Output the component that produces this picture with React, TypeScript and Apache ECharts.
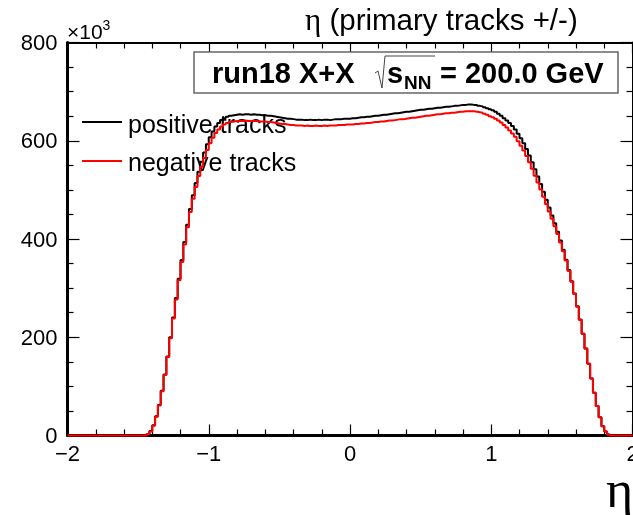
import React, { useEffect, useRef } from "react";
import * as echarts from "echarts";

// Histogram binning (eta axis)
const ETA_MIN = -2;
const ETA_MAX = 2;
const BIN_WIDTH = 0.02;

// Axis ticks
const X_TICK_INTERVAL = 1;
const Y_MIN = 0;
const Y_MAX = 800;
const Y_TICK_INTERVAL = 200;

// Counts per bin (x10^3), 200 bins from -2 to 2
const positiveTracks: number[] = [
  0, 0, 0, 0, 0, 0, 0, 0, 0, 0, 0, 0, 0, 0, 0, 0, 0, 0, 0, 0, 0, 0, 0, 0, 0, 0, 0,
  0, 3, 9, 21, 39, 62, 91, 124, 161, 200, 240, 280, 319, 357, 394, 429, 461, 489, 514, 537,
  557, 576, 593, 607, 619, 629, 636, 642, 646, 649, 651, 652, 653, 654, 653, 654, 654, 653,
  654, 653, 653, 652, 652, 651, 651, 650, 649, 648, 647, 646, 645, 645, 644, 643, 643, 643,
  642, 642, 643, 642, 642, 643, 642, 643, 643, 642, 643, 644, 644, 644, 645, 645, 645,
  646, 646, 647, 648, 648, 649, 649, 650, 651, 651, 652, 653, 653, 654, 655, 656, 656, 657,
  658, 659, 659, 660, 661, 662, 663, 663, 664, 665, 665, 666, 667, 667, 668, 669, 669, 670,
  671, 671, 672, 673, 673, 674, 674, 673, 673, 671, 670, 668, 666, 664,
  662, 659, 655, 651, 646, 641, 636, 630, 623, 614, 605, 595, 583, 570, 556, 542, 527, 512,
  496, 480, 464, 448, 432, 415, 397, 378, 358, 337, 314, 289, 263, 236, 207, 177, 146, 116,
  87, 60, 37, 19, 8, 2,
  0, 0, 0, 0, 0, 0, 0, 0,
];

const negativeTracks: number[] = [
  0, 0, 0, 0, 0, 0, 0, 0, 0, 0, 0, 0, 0, 0, 0, 0, 0, 0, 0, 0, 0, 0, 0, 0, 0, 0, 0,
  0, 3, 8, 20, 38, 61, 90, 123, 160, 198, 238, 277, 316, 353, 389, 424, 455, 482, 506, 528,
  547, 565, 581, 595, 606, 616, 623, 629, 633, 636, 638, 639, 640, 640, 640, 641, 640, 640,
  640, 640, 639, 639, 639, 638, 638, 637, 636, 635, 634, 634, 633, 632, 632, 631, 631, 631,
  630, 631, 630, 630, 631, 630, 630, 631, 630, 631, 631, 631, 632, 632, 632, 633, 633,
  633, 634, 634, 635, 635, 636, 636, 637, 638, 638, 639, 639, 640, 641, 641, 642, 643, 644,
  644, 645, 646, 647, 647, 648, 649, 650, 651, 651, 652, 653, 654, 654, 655, 656, 656, 657,
  657, 658, 659, 659, 660, 660, 660, 660, 659, 658, 657, 655, 653, 650,
  648, 645, 641, 637, 632, 627, 621, 615, 608, 599, 590, 580, 569, 556, 543, 529, 515, 501,
  486, 471, 456, 441, 426, 410, 393, 375, 356, 335, 313, 288, 262, 235, 207, 177, 146, 116,
  87, 60, 37, 19, 8, 2,
  0, 0, 0, 0, 0, 0, 0, 0,
];

const seriesNames = ["positive tracks", "negative tracks"];
const titleText = " (primary tracks +/-)";
const boxLabel = { left: "run18 X+X", s: "s", sub: "NN", right: "= 200.0 GeV" };

function toSteps(values: number[]): [number, number][] {
  const pts: [number, number][] = values.map((v, i) => [ETA_MIN + i * BIN_WIDTH, v]);
  pts.push([ETA_MAX, values[values.length - 1]]);
  return pts;
}

const fmtMinus = (v: number) => (v < 0 ? "\u2212" + Math.abs(v) : String(v));
const SANS = "Liberation Sans, Arial, Helvetica, sans-serif";

function makeXAxis(position: "bottom" | "top", lineWidth: number, showLabel: boolean) {
  return {
    type: "value",
    min: ETA_MIN,
    max: ETA_MAX,
    interval: X_TICK_INTERVAL,
    position,
    splitLine: { show: false },
    axisLine: { show: true, onZero: false, lineStyle: { color: "#000", width: lineWidth } },
    axisTick: { show: true, inside: true, length: 11, lineStyle: { color: "#000", width: 1.2 } },
    minorTick: { show: true, splitNumber: 5, length: 6, lineStyle: { color: "#000", width: 1.2 } },
    axisLabel: {
      show: true,
      color: showLabel ? "#000" : "rgba(0,0,0,0)",
      fontSize: showLabel ? 22 : 8,
      fontFamily: SANS,
      margin: 7,
      formatter: showLabel ? fmtMinus : () => "",
    },
  };
}

function makeYAxis(position: "left" | "right", lineWidth: number, showLabel: boolean) {
  return {
    type: "value",
    min: Y_MIN,
    max: Y_MAX,
    interval: Y_TICK_INTERVAL,
    position,
    splitLine: { show: false },
    axisLine: { show: true, onZero: false, lineStyle: { color: "#000", width: lineWidth } },
    axisTick: { show: true, inside: true, length: 12, lineStyle: { color: "#000", width: 1.2 } },
    minorTick: { show: true, splitNumber: 4, length: 6, lineStyle: { color: "#000", width: 1.2 } },
    axisLabel: {
      show: true,
      color: showLabel ? "#000" : "rgba(0,0,0,0)",
      fontSize: showLabel ? 22 : 8,
      fontFamily: SANS,
      margin: 10,
      formatter: showLabel ? (v: number) => String(v) : () => "",
    },
  };
}

export default function App() {
  const ref = useRef<HTMLDivElement>(null);
  useEffect(() => {
    if (!ref.current) return;
    const chart = echarts.init(ref.current, null, { renderer: "svg" });
    chart.setOption({
      animation: false,
      grid: { left: 67.5, top: 42.5, width: 565, height: 393, outerBoundsMode: "none" },
      xAxis: [makeXAxis("bottom", 3, true), makeXAxis("top", 2, false)],
      yAxis: [makeYAxis("left", 3, true), makeYAxis("right", 2, false)],
      series: [
        {
          name: seriesNames[0],
          type: "line",
          step: "end",
          showSymbol: false,
          clip: false,
          data: toSteps(positiveTracks),
          lineStyle: { color: "#000", width: 2 },
          itemStyle: { color: "#000" },
          z: 3,
        },
        {
          name: seriesNames[1],
          type: "line",
          step: "end",
          showSymbol: false,
          clip: false,
          data: toSteps(negativeTracks),
          lineStyle: { color: "#ff0000", width: 2 },
          itemStyle: { color: "#ff0000" },
          z: 4,
        },
      ],
      graphic: [
        {
          type: "text",
          left: 67,
          top: 18,
          style: {
            text: "{a|\u00d710}{b|3}",
            rich: {
              a: { fontSize: 21, fontFamily: SANS, fill: "#000", verticalAlign: "bottom" },
              b: { fontSize: 14, fontFamily: SANS, fill: "#000", verticalAlign: "top", padding: [0, 0, 10, 0] },
            },
          },
        },
        {
          type: "text",
          x: 305,
          y: 19,
          style: {
            text: "{e|\u03b7}{t|" + titleText + "}",
            verticalAlign: "middle",
            rich: {
              e: { fontSize: 31, fontFamily: "Liberation Serif, serif", fill: "#000" },
              t: { fontSize: 29.5, fontFamily: SANS, fill: "#000" },
            },
          },
        },
        {
          type: "rect",
          shape: { x: 194, y: 52, width: 424, height: 41 },
          style: { fill: "#fff", stroke: "#666", lineWidth: 1.5 },
          z: 10,
        },
        {
          type: "text",
          x: 212,
          y: 73,
          z: 11,
          style: { text: boxLabel.left, fontSize: 29, fontWeight: "bold", fontFamily: SANS, fill: "#000", verticalAlign: "middle" },
        },
        {
          type: "polyline",
          z: 11,
          shape: { points: [[375, 73], [378, 71], [382, 88], [385, 56], [435, 56]] },
          style: { stroke: "#444", lineWidth: 1, fill: "none" },
        },
        {
          type: "text",
          x: 387,
          y: 73,
          z: 11,
          style: { text: boxLabel.s, fontSize: 29, fontWeight: "bold", fontFamily: SANS, fill: "#000", verticalAlign: "middle" },
        },
        {
          type: "text",
          x: 404,
          y: 82,
          z: 11,
          style: { text: boxLabel.sub, fontSize: 19, fontWeight: "bold", fontFamily: SANS, fill: "#000", verticalAlign: "middle" },
        },
        {
          type: "text",
          x: 440,
          y: 73,
          z: 11,
          style: { text: boxLabel.right, fontSize: 29, fontWeight: "bold", fontFamily: SANS, fill: "#000", verticalAlign: "middle" },
        },
        {
          type: "line",
          shape: { x1: 82, y1: 122, x2: 122, y2: 122 },
          style: { stroke: "#000", lineWidth: 2 },
        },
        {
          type: "text",
          x: 128,
          y: 124,
          style: { text: seriesNames[0], fontSize: 25, fontFamily: SANS, fill: "#000", verticalAlign: "middle" },
        },
        {
          type: "line",
          shape: { x1: 82, y1: 161, x2: 122, y2: 161 },
          style: { stroke: "#ff0000", lineWidth: 2 },
        },
        {
          type: "text",
          x: 128,
          y: 162,
          style: { text: seriesNames[1], fontSize: 25, fontFamily: SANS, fill: "#000", verticalAlign: "middle" },
        },
        {
          type: "text",
          x: 606,
          y: 489,
          style: { text: "\u03b7", fontSize: 52, fontFamily: "Liberation Serif, serif", fill: "#000", verticalAlign: "middle" },
        },
      ],
    });
    return () => chart.dispose();
  }, []);
  return <div ref={ref} style={{ position: "fixed", left: 0, top: 0, width: 633, height: 515 }} />;
}
